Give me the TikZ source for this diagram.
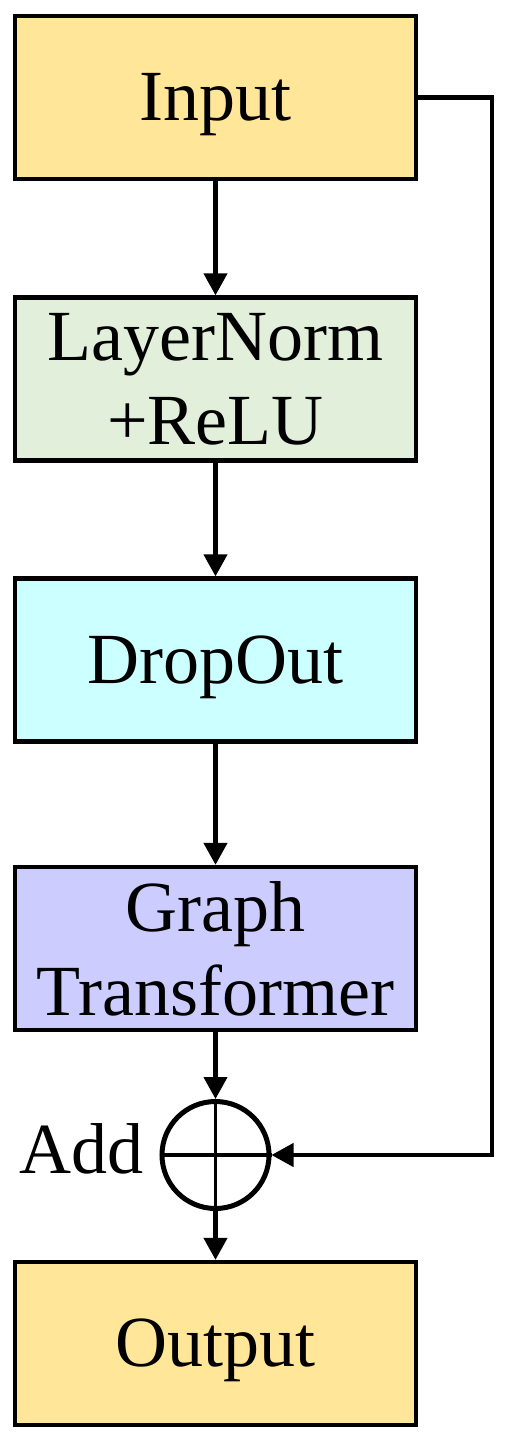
\documentclass[tikz,border=0pt]{standalone}
\usepackage{fontspec}
\setmainfont{Liberation Serif}
\usetikzlibrary{arrows.meta,positioning}
\definecolor{inyellow}{HTML}{FFE699}
\definecolor{normgreen}{HTML}{E2EFDA}
\definecolor{dropcyan}{HTML}{CCFFFF}
\definecolor{graphblue}{HTML}{CCCCFF}
\newcommand{\lowered}[1]{\raisebox{-7pt}[\height][\depth]{#1}}
\tikzset{
  block/.style={draw,line width=4.3pt,minimum width=401pt,minimum height=163pt,
    align=center,inner sep=0pt,font=\fontsize{72}{84}\selectfont},
  flow/.style={line width=4.3pt,-{Triangle[length=22pt,width=23pt]}}
}
\begin{document}
\begin{tikzpicture}[x=1pt,y=-1pt]
\useasboundingbox (0,0) rectangle (505,1441);
\node[block,fill=inyellow] (in) at (215.5,97.5) {\lowered{Input}};
\node[block,fill=normgreen] (norm) at (215.5,379) {LayerNorm\\+ReLU};
\node[block,fill=dropcyan] (drop) at (215.5,660) {\lowered{DropOut}};
\node[block,fill=graphblue] (gt) at (215.5,948.5) {Graph\\Transformer};
\node[draw,circle,line width=5pt,minimum size=107pt,inner sep=0pt] (add) at (215.5,1155) {};
\node[left=16pt of add,yshift=6pt,inner sep=0pt,font=\fontsize{72}{84}\selectfont] (addlbl) {Add};
\node[block,fill=inyellow] (out) at (215.5,1343.5) {\lowered{Output}};
\draw[line width=3.3pt] (add.north) -- (add.south);
\draw[line width=3.3pt] (add.west) -- (add.east);
\draw[flow] (in) -- (norm);
\draw[flow] (norm) -- (drop);
\draw[flow] (drop) -- (gt);
\draw[flow] (gt) -- (add);
\draw[flow] (add) -- (out);
\draw[flow] (in.east) -- ++(74,0) |- (add.east);
\end{tikzpicture}
\end{document}
